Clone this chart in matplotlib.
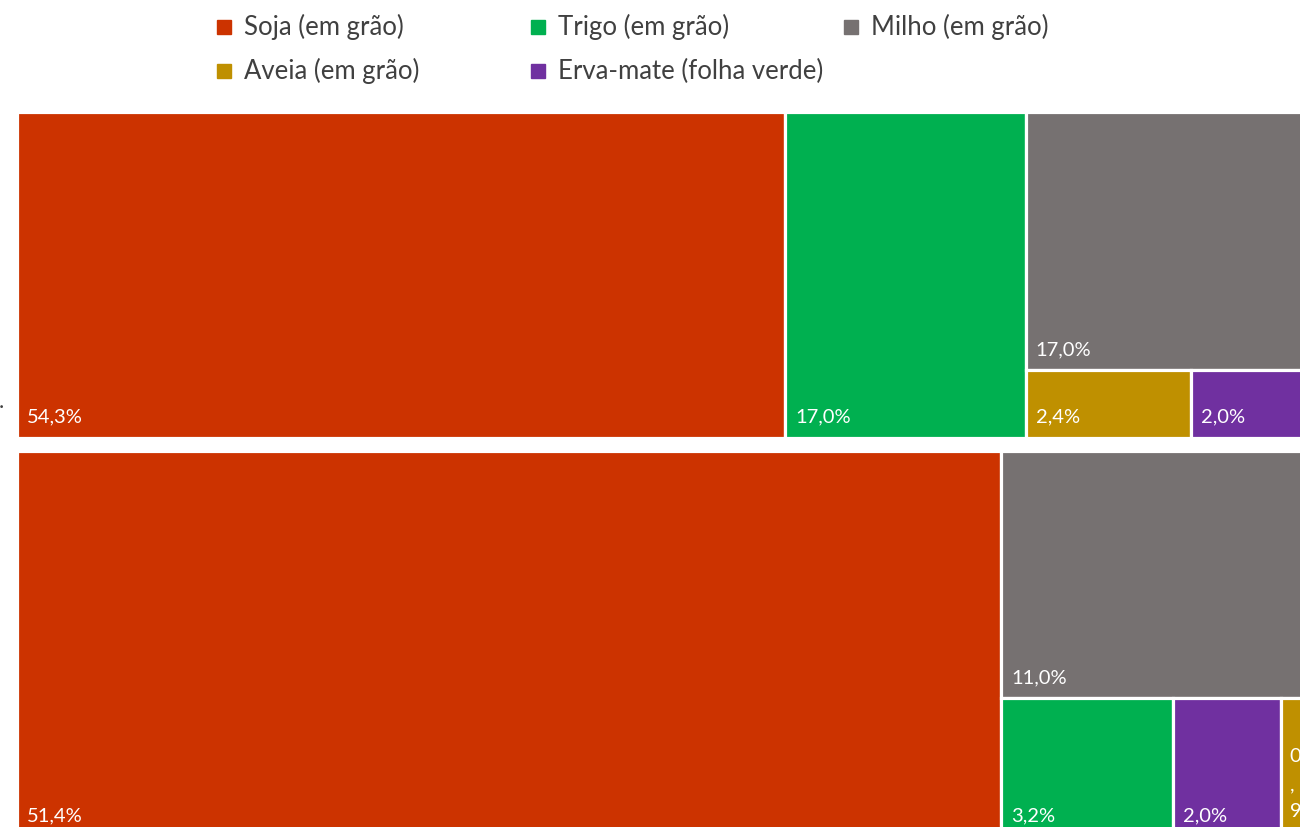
import matplotlib.pyplot as plt
from matplotlib.patches import Rectangle

plt.rcParams['font.family'] = ['Lato', 'DejaVu Sans']

# shares (%)
crops = ['Soja (em grão)', 'Trigo (em grão)', 'Milho (em grão)',
         'Aveia (em grão)', 'Erva-mate (folha verde)']
colors = ['#CC3300', '#00B050', '#767171', '#BF9000', '#7030A0']

top_values = {'Soja (em grão)': 54.3, 'Trigo (em grão)': 17.0, 'Milho (em grão)': 17.0,
              'Aveia (em grão)': 2.4, 'Erva-mate (folha verde)': 2.0}
bottom_values = {'Soja (em grão)': 51.4, 'Milho (em grão)': 11.0, 'Trigo (em grão)': 3.2,
                 'Erva-mate (folha verde)': 2.0, 'Aveia (em grão)': 0.9}

# treemap structure: columns, each column = a stack of items / rows
top_layout = [['Soja (em grão)'], ['Trigo (em grão)'],
              ['Milho (em grão)', ['Aveia (em grão)', 'Erva-mate (folha verde)']]]
bottom_layout = [['Soja (em grão)'],
                 ['Milho (em grão)', ['Trigo (em grão)', 'Erva-mate (folha verde)', 'Aveia (em grão)']]]

cmap = dict(zip(crops, colors))


def total(node, vals):
    if isinstance(node, list):
        return sum(total(n, vals) for n in node)
    return vals[node]


def draw_box(ax, name, vals, x, y, w, h):
    ax.add_patch(Rectangle((x, y), w, h, facecolor=cmap[name],
                           edgecolor='white', lw=2.3))
    label = f'{vals[name]:.1f}%'.replace('.', ',')
    if w < 60:
        # too narrow: Excel wraps the label one char per line
        ax.text(x + 9, y + 50, '\n'.join(label), color='white', fontsize=14.5,
                ha='left', va='top', linespacing=1.75, clip_on=True)
    else:
        ax.text(x + 10, y + h - 12, label, color='white', fontsize=14.5,
                ha='left', va='bottom', clip_on=True)


def draw_group(ax, layout, vals, x0, y0, h, k):
    x = x0
    for col in layout:
        s = total(col, vals)
        w = s * k
        y = y0
        for item in col:
            ih = total(item, vals) / s * h
            if isinstance(item, list):
                xx = x
                rs = total(item, vals)
                for sub in item:
                    sw = vals[sub] / rs * w
                    draw_box(ax, sub, vals, xx, y, sw, ih)
                    xx += sw
            else:
                draw_box(ax, item, vals, x, y, w, ih)
            y += ih
        x += w


fig = plt.figure(figsize=(13, 8.27), dpi=100)
ax = fig.add_axes([0, 0, 1, 1])
ax.set_xlim(0, 1300)
ax.set_ylim(827, 0)
ax.axis('off')

draw_group(ax, top_layout, top_values, 16.5, 111.5, 326, 768.5 / 54.3)
draw_group(ax, bottom_layout, bottom_values, 16.5, 450.5, 385.5, 985 / 51.4)

ax.text(-1, 408, '.', color='#404040', fontsize=16, va='baseline', ha='left')

# legend, 3 equal-width columns
for i, c in enumerate(crops):
    lx = 224 + (i % 3) * 313.5
    ly = 27 + (i // 3) * 44
    ax.plot(lx, ly, marker='s', ms=10, color=cmap[c], ls='')
    ax.text(lx + 20, ly, c, color='#404040', fontsize=18.5, ha='left', va='center')

fig.savefig('out.png', dpi=100)
